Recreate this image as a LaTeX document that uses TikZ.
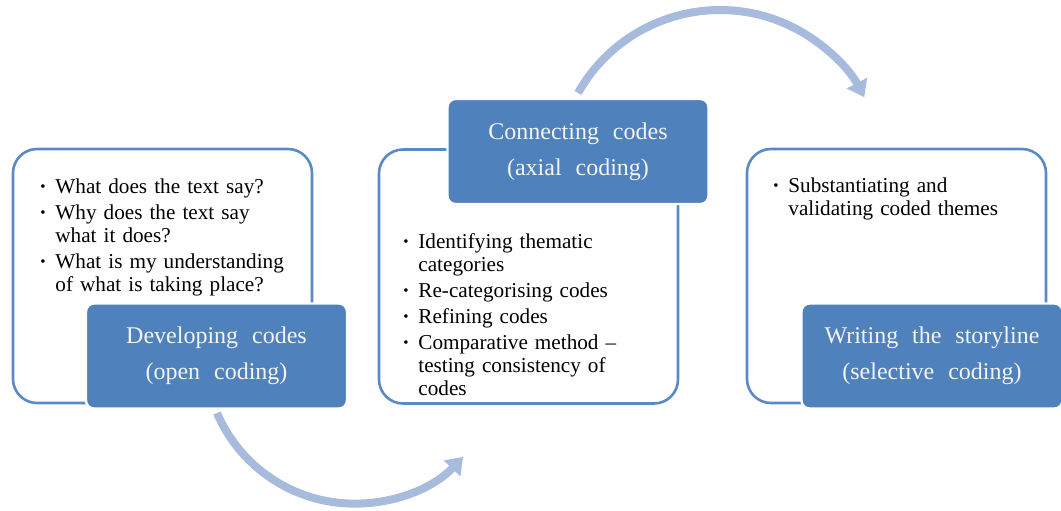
\documentclass[tikz,border=0pt]{standalone}
\usepackage{fontspec}
\setmainfont{Liberation Serif}
\usepackage{tikz}
\usetikzlibrary{arrows.meta}
\definecolor{boxblue}{RGB}{79,129,189}
\definecolor{edgeblue}{RGB}{90,138,198}
\definecolor{arrowblue}{RGB}{167,188,221}
\definecolor{labelwhite}{RGB}{244,244,244}
\newcommand{\ptfont}{\fontsize{10.6}{11.5}\selectfont\setlength{\parskip}{1.5pt}}
\newcommand{\stagefont}{\fontsize{12}{18}\selectfont\spaceskip=0.58em\relax}
\newcommand{\bitem}[1]{\par\noindent\hangindent=7.5pt\relax\hangafter=1\relax
  \hbox to 7.5pt{\raisebox{0.9pt}{\fontsize{7.5}{7.5}\selectfont\textbullet}\hss}#1}

\begin{document}
\begin{tikzpicture}[line cap=round,line join=round,x=0.5pt,y=0.5pt,
  outerbox/.style={draw=edgeblue,line width=1.3pt,fill=white,rounded corners=12pt,minimum width=149.5pt,minimum height=127pt,inner sep=0pt},
  stagebox/.style={draw=white,line width=1.2pt,fill=boxblue,rounded corners=4pt,minimum width=130.5pt,minimum height=52.5pt,inner sep=0pt,align=center,text=labelwhite,font=\stagefont},
  points/.style={anchor=north west,inner sep=0pt,text width=135pt,font=\ptfont},
  flowarrow/.style={draw=arrowblue,line width=4pt,line cap=butt,-{Triangle[width=11pt,length=8pt]}}]
\useasboundingbox (0,0) rectangle (1061,-510);
\coordinate (openout) at (217,-413);
\coordinate (axialout) at (578,-93);
\draw [flowarrow] (openout) arc[start angle=203.2,end angle=316.6,radius=149.5];
\draw [flowarrow] (axialout) arc[start angle=150.6,end angle=27.7,radius=163];
\node [outerbox] (openbox) at (162.5,-276) {};
\node [outerbox] (axialbox) at (528.5,-276.5) {};
\node [outerbox] (selectbox) at (896.5,-276) {};
\node [points] (openpts) at (40,-167) {%
\bitem{What does the text say?}
\bitem{Why does the text say\newline what it does?}
\bitem{What is my understanding\newline of what is taking place?}\par};
\node [points] (axialpts) at (403,-222) {%
\bitem{Identifying thematic\newline categories}
\bitem{Re-categorising codes}
\bitem{Refining codes}
\bitem{Comparative method --\newline testing consistency of\newline codes}\par};
\node [points] (selectpts) at (773,-166) {%
\bitem{Substantiating and\newline validating coded themes}\par};
\node [stagebox] (open) at (216.5,-356) {Developing codes\\(open coding)};
\node [stagebox] (axial) at (578,-151.5) {Connecting codes\\(axial coding)};
\node [stagebox] (select) at (932,-356) {Writing the storyline\\(selective coding)};
\end{tikzpicture}
\end{document}
